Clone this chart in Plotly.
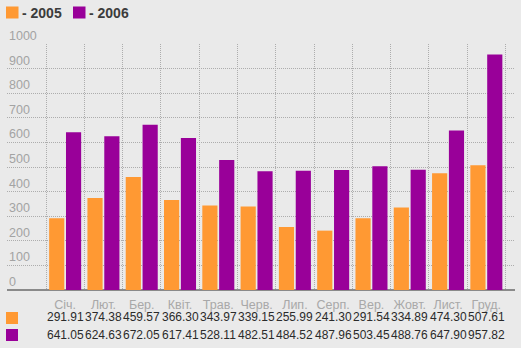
import plotly.graph_objects as go

months = ["Січ.", "Лют.", "Бер.", "Квіт.", "Трав.", "Черв.", "Лип.", "Серп.", "Вер.", "Жовт.", "Лист.", "Груд."]
series_names = ["2005", "2006"]
values_2005 = [291.91, 374.38, 459.57, 366.30, 343.97, 339.15, 255.99, 241.30, 291.54, 334.89, 474.30, 507.61]
values_2006 = [641.05, 624.63, 672.05, 617.41, 528.11, 482.51, 484.52, 487.96, 503.45, 488.76, 647.90, 957.82]
y_ticks = [0, 100, 200, 300, 400, 500, 600, 700, 800, 900, 1000]

ORANGE = "#ff9933"
PURPLE = "#990099"
BG = "#eaeaea"
FONT = "Arial, 'Liberation Sans', sans-serif"

W, H = 521, 348
ML, MR, MT, MB = 7, 6, 44, 58
PW, PH = W - ML - MR, H - MT - MB


def px(xp):
    return (xp - ML) / PW


def py(yp):
    return (H - MB - yp) / PH


fig = go.Figure()
fig.add_trace(go.Bar(x=months, y=values_2005, name=series_names[0], marker_color=ORANGE, marker_line_width=0))
fig.add_trace(go.Bar(x=months, y=values_2006, name=series_names[1], marker_color=PURPLE, marker_line_width=0))

# category axis: -0.5 at px 46, 11.5 at px 505.5
cat_w = (505.5 - 46) / len(months)
x_lo = -0.5 - (46 - ML) / cat_w
x_hi = len(months) - 0.5 + ((W - MR) - 505.5) / cat_w

annotations = []
shapes = []

# y tick labels (left aligned, above gridlines)
for v in y_ticks:
    annotations.append(dict(x=0, xref="paper", y=v, yref="y", text=str(v), showarrow=False,
                            xanchor="left", yanchor="bottom", yshift=-1,
                            font=dict(family=FONT, size=12.5, color="#a3a3a3")))

# data table rows
for vals, shift in ((values_2005, -27), (values_2006, -45)):
    for m, v in zip(months, vals):
        annotations.append(dict(x=m, xref="x", y=0, yref="paper", yshift=shift, text=f"{v:.2f}",
                                showarrow=False, xanchor="center", yanchor="middle",
                                font=dict(family=FONT, size=12, color="#2a2a2a")))

# table swatches
for color, (y0, y1) in ((ORANGE, (312, 324)), (PURPLE, (329, 341))):
    shapes.append(dict(type="rect", xref="paper", yref="paper", x0=px(6), x1=px(18), y0=py(y1), y1=py(y0),
                       fillcolor=color, line_width=0))

# legend
for color, x0, name in ((ORANGE, 6, series_names[0]), (PURPLE, 73, series_names[1])):
    shapes.append(dict(type="rect", xref="paper", yref="paper", x0=px(x0), x1=px(x0 + 12.5),
                       y0=py(18.5), y1=py(6.5), fillcolor=color, line_width=0))
    annotations.append(dict(x=px(x0 + 13.5), xref="paper", y=py(12.5), yref="paper", text="- " + name,
                            showarrow=False, xanchor="left", yanchor="middle",
                            font=dict(family=FONT, size=14, color="#3c3c3c", weight="bold")))

fig.update_layout(
    width=W, height=H,
    margin=dict(l=ML, r=MR, t=MT, b=MB, pad=0),
    paper_bgcolor=BG, plot_bgcolor=BG,
    barmode="group", bargap=0.12, bargroupgap=0.1,
    showlegend=False,
    annotations=annotations, shapes=shapes,
    xaxis=dict(type="category", range=[x_lo, x_hi], tickson="boundaries", showgrid=True,
               gridcolor="#adadad", griddash="1px,1px", gridwidth=1, ticks="", ticklen=0,
               tickangle=0,
               tickfont=dict(family=FONT, size=12.5, color="#a8a8a8"), ticklabelstandoff=5,
               showline=False, zeroline=False, fixedrange=True),
    yaxis=dict(range=[0, 1000], tickvals=y_ticks, showticklabels=False, showgrid=True,
               gridcolor="#adadad", griddash="1px,1px", gridwidth=1, zeroline=True,
               zerolinecolor="#8a8a8a", zerolinewidth=2, showline=False, fixedrange=True),
)

fig.write_html("out.html")
